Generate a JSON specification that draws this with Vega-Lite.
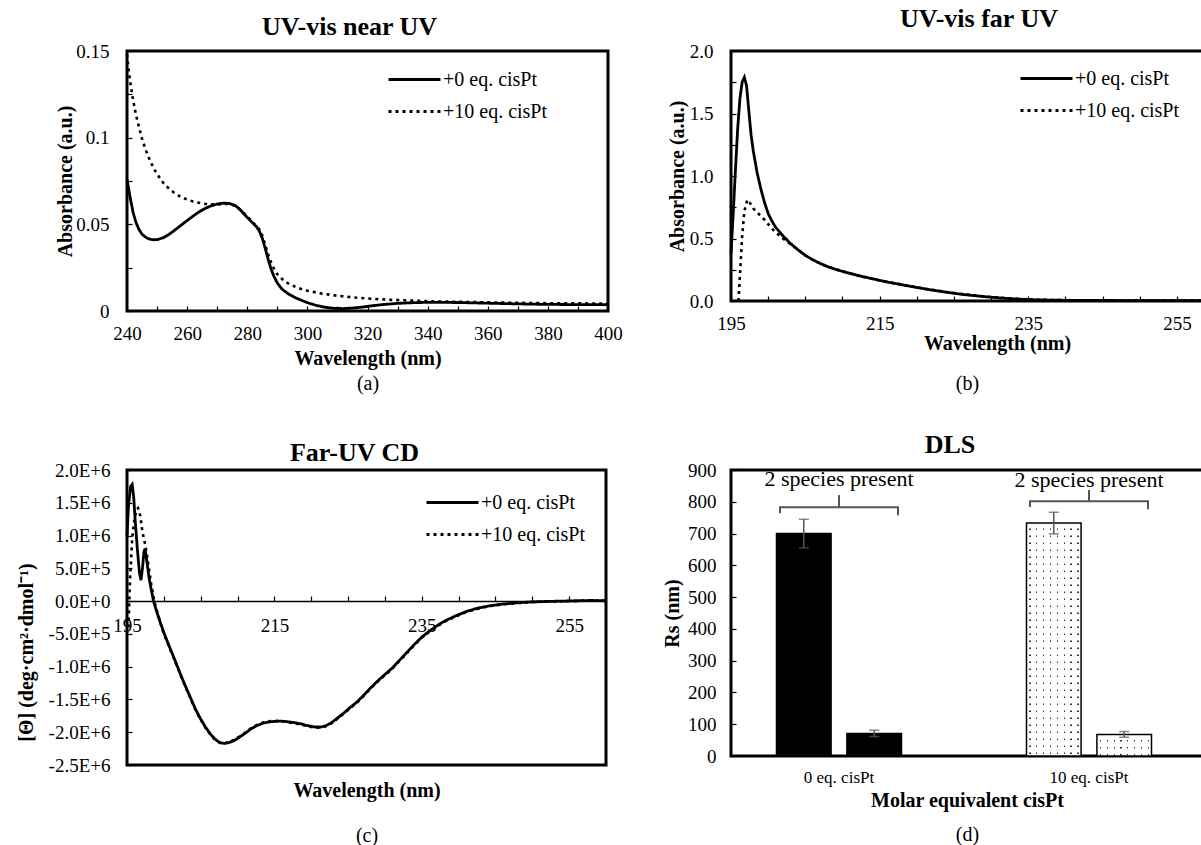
{
  "$schema": "https://vega.github.io/schema/vega-lite/v6.json",
  "background": "white",
  "padding": {"left": 14, "top": 4, "right": 0, "bottom": 0},
  "config": {
    "font": "Liberation Serif",
    "view": {"stroke": "black", "strokeWidth": 3},
    "axis": {
      "grid": false, "domain": false, "ticks": true, "tickColor": "black", "tickWidth": 1.2, "tickSize": -5,
      "labelColor": "black", "labelFontSize": 19, "labelFont": "Liberation Serif",
      "labelFlush": false, "labelOverlap": false, "labelBound": false, "labelSeparation": 0,
      "titleFont": "Liberation Serif", "titleFontSize": 20, "titleFontWeight": "bold", "titleColor": "black"
    },
    "title": {"font": "Liberation Serif", "fontSize": 26, "fontWeight": "bold", "color": "black", "anchor": "middle", "frame": "group", "baseline": "alphabetic"},
    "legend": {
      "title": null, "padding": 0, "symbolType": "M-2.6,0H2.6", "symbolSize": 400, "symbolStrokeWidth": 2.8,
      "symbolStrokeColor": "black", "symbolFillColor": "transparent", "labelFont": "Liberation Serif",
      "labelFontSize": 20, "labelColor": "black", "labelOffset": 17, "rowPadding": 10
    }
  },
  "datasets": {
    "nearuv": [
      {"nm": 240, "series": "+0 eq. cisPt", "abs": 0.076}, {"nm": 241, "series": "+0 eq. cisPt", "abs": 0.066},
      {"nm": 242, "series": "+0 eq. cisPt", "abs": 0.057}, {"nm": 243, "series": "+0 eq. cisPt", "abs": 0.051},
      {"nm": 244, "series": "+0 eq. cisPt", "abs": 0.047}, {"nm": 245, "series": "+0 eq. cisPt", "abs": 0.0443},
      {"nm": 246, "series": "+0 eq. cisPt", "abs": 0.0428}, {"nm": 247, "series": "+0 eq. cisPt", "abs": 0.0418},
      {"nm": 248, "series": "+0 eq. cisPt", "abs": 0.0413}, {"nm": 249, "series": "+0 eq. cisPt", "abs": 0.0411},
      {"nm": 250, "series": "+0 eq. cisPt", "abs": 0.0412}, {"nm": 252, "series": "+0 eq. cisPt", "abs": 0.0422},
      {"nm": 254, "series": "+0 eq. cisPt", "abs": 0.0442}, {"nm": 256, "series": "+0 eq. cisPt", "abs": 0.0468},
      {"nm": 258, "series": "+0 eq. cisPt", "abs": 0.0495}, {"nm": 260, "series": "+0 eq. cisPt", "abs": 0.0522},
      {"nm": 262, "series": "+0 eq. cisPt", "abs": 0.0548}, {"nm": 264, "series": "+0 eq. cisPt", "abs": 0.0572},
      {"nm": 266, "series": "+0 eq. cisPt", "abs": 0.0592}, {"nm": 268, "series": "+0 eq. cisPt", "abs": 0.0607},
      {"nm": 270, "series": "+0 eq. cisPt", "abs": 0.0617}, {"nm": 272, "series": "+0 eq. cisPt", "abs": 0.0622},
      {"nm": 274, "series": "+0 eq. cisPt", "abs": 0.0621}, {"nm": 276, "series": "+0 eq. cisPt", "abs": 0.0608},
      {"nm": 277, "series": "+0 eq. cisPt", "abs": 0.0595}, {"nm": 278, "series": "+0 eq. cisPt", "abs": 0.0578},
      {"nm": 279, "series": "+0 eq. cisPt", "abs": 0.0558}, {"nm": 280, "series": "+0 eq. cisPt", "abs": 0.054},
      {"nm": 281, "series": "+0 eq. cisPt", "abs": 0.0522}, {"nm": 282, "series": "+0 eq. cisPt", "abs": 0.0505},
      {"nm": 283, "series": "+0 eq. cisPt", "abs": 0.0488}, {"nm": 284, "series": "+0 eq. cisPt", "abs": 0.0462},
      {"nm": 285, "series": "+0 eq. cisPt", "abs": 0.042}, {"nm": 286, "series": "+0 eq. cisPt", "abs": 0.036},
      {"nm": 287, "series": "+0 eq. cisPt", "abs": 0.0295}, {"nm": 288, "series": "+0 eq. cisPt", "abs": 0.0238},
      {"nm": 289, "series": "+0 eq. cisPt", "abs": 0.0195}, {"nm": 290, "series": "+0 eq. cisPt", "abs": 0.0162},
      {"nm": 291, "series": "+0 eq. cisPt", "abs": 0.0138}, {"nm": 292, "series": "+0 eq. cisPt", "abs": 0.012},
      {"nm": 294, "series": "+0 eq. cisPt", "abs": 0.0095}, {"nm": 296, "series": "+0 eq. cisPt", "abs": 0.0077},
      {"nm": 298, "series": "+0 eq. cisPt", "abs": 0.0062}, {"nm": 300, "series": "+0 eq. cisPt", "abs": 0.0048},
      {"nm": 303, "series": "+0 eq. cisPt", "abs": 0.0032}, {"nm": 306, "series": "+0 eq. cisPt", "abs": 0.0021},
      {"nm": 309, "series": "+0 eq. cisPt", "abs": 0.0015}, {"nm": 312, "series": "+0 eq. cisPt", "abs": 0.0014},
      {"nm": 315, "series": "+0 eq. cisPt", "abs": 0.0017}, {"nm": 318, "series": "+0 eq. cisPt", "abs": 0.0022},
      {"nm": 321, "series": "+0 eq. cisPt", "abs": 0.0029}, {"nm": 325, "series": "+0 eq. cisPt", "abs": 0.0037},
      {"nm": 330, "series": "+0 eq. cisPt", "abs": 0.0044}, {"nm": 335, "series": "+0 eq. cisPt", "abs": 0.0048},
      {"nm": 340, "series": "+0 eq. cisPt", "abs": 0.005}, {"nm": 350, "series": "+0 eq. cisPt", "abs": 0.0049},
      {"nm": 360, "series": "+0 eq. cisPt", "abs": 0.0045}, {"nm": 370, "series": "+0 eq. cisPt", "abs": 0.0041},
      {"nm": 380, "series": "+0 eq. cisPt", "abs": 0.0038}, {"nm": 390, "series": "+0 eq. cisPt", "abs": 0.0037},
      {"nm": 400, "series": "+0 eq. cisPt", "abs": 0.0037},
      {"nm": 240, "series": "+10 eq. cisPt", "abs": 0.148}, {"nm": 240.5, "series": "+10 eq. cisPt", "abs": 0.14},
      {"nm": 241, "series": "+10 eq. cisPt", "abs": 0.133}, {"nm": 242, "series": "+10 eq. cisPt", "abs": 0.122},
      {"nm": 243, "series": "+10 eq. cisPt", "abs": 0.113}, {"nm": 244, "series": "+10 eq. cisPt", "abs": 0.106},
      {"nm": 245, "series": "+10 eq. cisPt", "abs": 0.0995}, {"nm": 246, "series": "+10 eq. cisPt", "abs": 0.094},
      {"nm": 247, "series": "+10 eq. cisPt", "abs": 0.0895}, {"nm": 248, "series": "+10 eq. cisPt", "abs": 0.0855},
      {"nm": 249, "series": "+10 eq. cisPt", "abs": 0.082}, {"nm": 250, "series": "+10 eq. cisPt", "abs": 0.079},
      {"nm": 252, "series": "+10 eq. cisPt", "abs": 0.074}, {"nm": 254, "series": "+10 eq. cisPt", "abs": 0.0705},
      {"nm": 256, "series": "+10 eq. cisPt", "abs": 0.0678}, {"nm": 258, "series": "+10 eq. cisPt", "abs": 0.0658},
      {"nm": 260, "series": "+10 eq. cisPt", "abs": 0.0643}, {"nm": 262, "series": "+10 eq. cisPt", "abs": 0.0632},
      {"nm": 264, "series": "+10 eq. cisPt", "abs": 0.0624}, {"nm": 266, "series": "+10 eq. cisPt", "abs": 0.0618},
      {"nm": 268, "series": "+10 eq. cisPt", "abs": 0.0615}, {"nm": 270, "series": "+10 eq. cisPt", "abs": 0.0615},
      {"nm": 272, "series": "+10 eq. cisPt", "abs": 0.0617}, {"nm": 274, "series": "+10 eq. cisPt", "abs": 0.0617},
      {"nm": 276, "series": "+10 eq. cisPt", "abs": 0.0607}, {"nm": 278, "series": "+10 eq. cisPt", "abs": 0.058},
      {"nm": 280, "series": "+10 eq. cisPt", "abs": 0.0545}, {"nm": 282, "series": "+10 eq. cisPt", "abs": 0.0508},
      {"nm": 284, "series": "+10 eq. cisPt", "abs": 0.0472}, {"nm": 285, "series": "+10 eq. cisPt", "abs": 0.0436},
      {"nm": 286, "series": "+10 eq. cisPt", "abs": 0.038}, {"nm": 287, "series": "+10 eq. cisPt", "abs": 0.0325},
      {"nm": 288, "series": "+10 eq. cisPt", "abs": 0.0278}, {"nm": 289, "series": "+10 eq. cisPt", "abs": 0.024},
      {"nm": 290, "series": "+10 eq. cisPt", "abs": 0.0212}, {"nm": 292, "series": "+10 eq. cisPt", "abs": 0.0178},
      {"nm": 294, "series": "+10 eq. cisPt", "abs": 0.0155}, {"nm": 296, "series": "+10 eq. cisPt", "abs": 0.014},
      {"nm": 298, "series": "+10 eq. cisPt", "abs": 0.0127}, {"nm": 300, "series": "+10 eq. cisPt", "abs": 0.0117},
      {"nm": 305, "series": "+10 eq. cisPt", "abs": 0.01}, {"nm": 310, "series": "+10 eq. cisPt", "abs": 0.0088},
      {"nm": 315, "series": "+10 eq. cisPt", "abs": 0.0079}, {"nm": 320, "series": "+10 eq. cisPt", "abs": 0.0072},
      {"nm": 325, "series": "+10 eq. cisPt", "abs": 0.0067}, {"nm": 330, "series": "+10 eq. cisPt", "abs": 0.0063},
      {"nm": 340, "series": "+10 eq. cisPt", "abs": 0.0057}, {"nm": 350, "series": "+10 eq. cisPt", "abs": 0.0053},
      {"nm": 360, "series": "+10 eq. cisPt", "abs": 0.005}, {"nm": 370, "series": "+10 eq. cisPt", "abs": 0.0047},
      {"nm": 380, "series": "+10 eq. cisPt", "abs": 0.0045}, {"nm": 390, "series": "+10 eq. cisPt", "abs": 0.0044},
      {"nm": 400, "series": "+10 eq. cisPt", "abs": 0.0043}
    ],
    "faruv": [
      {"nm": 195, "series": "+0 eq. cisPt", "abs": 0.38}, {"nm": 195.3, "series": "+0 eq. cisPt", "abs": 0.7},
      {"nm": 195.6, "series": "+0 eq. cisPt", "abs": 1.05}, {"nm": 195.9, "series": "+0 eq. cisPt", "abs": 1.38},
      {"nm": 196.2, "series": "+0 eq. cisPt", "abs": 1.62}, {"nm": 196.5, "series": "+0 eq. cisPt", "abs": 1.75},
      {"nm": 196.8, "series": "+0 eq. cisPt", "abs": 1.79}, {"nm": 197.1, "series": "+0 eq. cisPt", "abs": 1.72},
      {"nm": 197.4, "series": "+0 eq. cisPt", "abs": 1.52}, {"nm": 197.7, "series": "+0 eq. cisPt", "abs": 1.33},
      {"nm": 198, "series": "+0 eq. cisPt", "abs": 1.2}, {"nm": 198.5, "series": "+0 eq. cisPt", "abs": 1.03},
      {"nm": 199, "series": "+0 eq. cisPt", "abs": 0.9}, {"nm": 199.5, "series": "+0 eq. cisPt", "abs": 0.79},
      {"nm": 200, "series": "+0 eq. cisPt", "abs": 0.7}, {"nm": 200.5, "series": "+0 eq. cisPt", "abs": 0.64},
      {"nm": 201, "series": "+0 eq. cisPt", "abs": 0.59}, {"nm": 202, "series": "+0 eq. cisPt", "abs": 0.52},
      {"nm": 203, "series": "+0 eq. cisPt", "abs": 0.46}, {"nm": 204, "series": "+0 eq. cisPt", "abs": 0.41},
      {"nm": 205, "series": "+0 eq. cisPt", "abs": 0.365}, {"nm": 206, "series": "+0 eq. cisPt", "abs": 0.33},
      {"nm": 207, "series": "+0 eq. cisPt", "abs": 0.3}, {"nm": 208, "series": "+0 eq. cisPt", "abs": 0.275},
      {"nm": 209, "series": "+0 eq. cisPt", "abs": 0.255}, {"nm": 210, "series": "+0 eq. cisPt", "abs": 0.237},
      {"nm": 212, "series": "+0 eq. cisPt", "abs": 0.205}, {"nm": 214, "series": "+0 eq. cisPt", "abs": 0.178},
      {"nm": 216, "series": "+0 eq. cisPt", "abs": 0.152}, {"nm": 218, "series": "+0 eq. cisPt", "abs": 0.13},
      {"nm": 220, "series": "+0 eq. cisPt", "abs": 0.108}, {"nm": 222, "series": "+0 eq. cisPt", "abs": 0.088},
      {"nm": 224, "series": "+0 eq. cisPt", "abs": 0.07}, {"nm": 226, "series": "+0 eq. cisPt", "abs": 0.054},
      {"nm": 228, "series": "+0 eq. cisPt", "abs": 0.041}, {"nm": 230, "series": "+0 eq. cisPt", "abs": 0.03},
      {"nm": 232, "series": "+0 eq. cisPt", "abs": 0.021}, {"nm": 234, "series": "+0 eq. cisPt", "abs": 0.014},
      {"nm": 236, "series": "+0 eq. cisPt", "abs": 0.0095}, {"nm": 238, "series": "+0 eq. cisPt", "abs": 0.007},
      {"nm": 240, "series": "+0 eq. cisPt", "abs": 0.0055}, {"nm": 245, "series": "+0 eq. cisPt", "abs": 0.004},
      {"nm": 250, "series": "+0 eq. cisPt", "abs": 0.0035}, {"nm": 255, "series": "+0 eq. cisPt", "abs": 0.003},
      {"nm": 258.5, "series": "+0 eq. cisPt", "abs": 0.003},
      {"nm": 196, "series": "+10 eq. cisPt", "abs": 0}, {"nm": 196.2, "series": "+10 eq. cisPt", "abs": 0.2},
      {"nm": 196.5, "series": "+10 eq. cisPt", "abs": 0.52}, {"nm": 196.8, "series": "+10 eq. cisPt", "abs": 0.72},
      {"nm": 197.2, "series": "+10 eq. cisPt", "abs": 0.81}, {"nm": 197.6, "series": "+10 eq. cisPt", "abs": 0.78},
      {"nm": 198, "series": "+10 eq. cisPt", "abs": 0.74}, {"nm": 198.5, "series": "+10 eq. cisPt", "abs": 0.71},
      {"nm": 199, "series": "+10 eq. cisPt", "abs": 0.68}, {"nm": 199.5, "series": "+10 eq. cisPt", "abs": 0.65},
      {"nm": 200, "series": "+10 eq. cisPt", "abs": 0.615}, {"nm": 200.5, "series": "+10 eq. cisPt", "abs": 0.58},
      {"nm": 201, "series": "+10 eq. cisPt", "abs": 0.55}, {"nm": 202, "series": "+10 eq. cisPt", "abs": 0.5},
      {"nm": 203, "series": "+10 eq. cisPt", "abs": 0.455}, {"nm": 204, "series": "+10 eq. cisPt", "abs": 0.41},
      {"nm": 205, "series": "+10 eq. cisPt", "abs": 0.365}, {"nm": 206, "series": "+10 eq. cisPt", "abs": 0.33},
      {"nm": 207, "series": "+10 eq. cisPt", "abs": 0.3}, {"nm": 208, "series": "+10 eq. cisPt", "abs": 0.275},
      {"nm": 209, "series": "+10 eq. cisPt", "abs": 0.255}, {"nm": 210, "series": "+10 eq. cisPt", "abs": 0.237},
      {"nm": 212, "series": "+10 eq. cisPt", "abs": 0.205}, {"nm": 214, "series": "+10 eq. cisPt", "abs": 0.178},
      {"nm": 216, "series": "+10 eq. cisPt", "abs": 0.153}, {"nm": 218, "series": "+10 eq. cisPt", "abs": 0.131},
      {"nm": 220, "series": "+10 eq. cisPt", "abs": 0.11}, {"nm": 222, "series": "+10 eq. cisPt", "abs": 0.09},
      {"nm": 224, "series": "+10 eq. cisPt", "abs": 0.072}, {"nm": 226, "series": "+10 eq. cisPt", "abs": 0.056},
      {"nm": 228, "series": "+10 eq. cisPt", "abs": 0.043}, {"nm": 230, "series": "+10 eq. cisPt", "abs": 0.032},
      {"nm": 232, "series": "+10 eq. cisPt", "abs": 0.023}, {"nm": 234, "series": "+10 eq. cisPt", "abs": 0.016},
      {"nm": 236, "series": "+10 eq. cisPt", "abs": 0.011}, {"nm": 238, "series": "+10 eq. cisPt", "abs": 0.008},
      {"nm": 240, "series": "+10 eq. cisPt", "abs": 0.006}, {"nm": 245, "series": "+10 eq. cisPt", "abs": 0.0045},
      {"nm": 250, "series": "+10 eq. cisPt", "abs": 0.004}, {"nm": 255, "series": "+10 eq. cisPt", "abs": 0.0035},
      {"nm": 258.5, "series": "+10 eq. cisPt", "abs": 0.0035}
    ],
    "cd": [
      {"nm": 195, "series": "+0 eq. cisPt", "theta": 1.0e6}, {"nm": 195.2, "series": "+0 eq. cisPt", "theta": 1.45e6},
      {"nm": 195.5, "series": "+0 eq. cisPt", "theta": 1.75e6}, {"nm": 195.7, "series": "+0 eq. cisPt", "theta": 1.78e6},
      {"nm": 195.9, "series": "+0 eq. cisPt", "theta": 1.6e6}, {"nm": 196.1, "series": "+0 eq. cisPt", "theta": 1.25e6},
      {"nm": 196.4, "series": "+0 eq. cisPt", "theta": 0.8e6}, {"nm": 196.7, "series": "+0 eq. cisPt", "theta": 0.42e6},
      {"nm": 196.9, "series": "+0 eq. cisPt", "theta": 0.32e6}, {"nm": 197.1, "series": "+0 eq. cisPt", "theta": 0.5e6},
      {"nm": 197.3, "series": "+0 eq. cisPt", "theta": 0.75e6}, {"nm": 197.45, "series": "+0 eq. cisPt", "theta": 0.8e6},
      {"nm": 197.7, "series": "+0 eq. cisPt", "theta": 0.6e6}, {"nm": 198, "series": "+0 eq. cisPt", "theta": 0.35e6},
      {"nm": 198.3, "series": "+0 eq. cisPt", "theta": 0.17e6}, {"nm": 198.6, "series": "+0 eq. cisPt", "theta": 0},
      {"nm": 199, "series": "+0 eq. cisPt", "theta": -0.15e6}, {"nm": 199.5, "series": "+0 eq. cisPt", "theta": -0.32e6},
      {"nm": 200, "series": "+0 eq. cisPt", "theta": -0.48e6}, {"nm": 200.7, "series": "+0 eq. cisPt", "theta": -0.68e6},
      {"nm": 201.5, "series": "+0 eq. cisPt", "theta": -0.9e6}, {"nm": 202.2, "series": "+0 eq. cisPt", "theta": -1.1e6},
      {"nm": 202.9, "series": "+0 eq. cisPt", "theta": -1.29e6}, {"nm": 203.6, "series": "+0 eq. cisPt", "theta": -1.47e6},
      {"nm": 204.3, "series": "+0 eq. cisPt", "theta": -1.65e6}, {"nm": 205, "series": "+0 eq. cisPt", "theta": -1.8e6},
      {"nm": 205.7, "series": "+0 eq. cisPt", "theta": -1.93e6}, {"nm": 206.4, "series": "+0 eq. cisPt", "theta": -2.04e6},
      {"nm": 207, "series": "+0 eq. cisPt", "theta": -2.11e6}, {"nm": 207.6, "series": "+0 eq. cisPt", "theta": -2.16e6},
      {"nm": 208.2, "series": "+0 eq. cisPt", "theta": -2.17e6}, {"nm": 208.8, "series": "+0 eq. cisPt", "theta": -2.16e6},
      {"nm": 209.5, "series": "+0 eq. cisPt", "theta": -2.13e6}, {"nm": 210.2, "series": "+0 eq. cisPt", "theta": -2.08e6},
      {"nm": 211, "series": "+0 eq. cisPt", "theta": -2.02e6}, {"nm": 211.8, "series": "+0 eq. cisPt", "theta": -1.95e6},
      {"nm": 212.6, "series": "+0 eq. cisPt", "theta": -1.9e6}, {"nm": 213.5, "series": "+0 eq. cisPt", "theta": -1.86e6},
      {"nm": 214.5, "series": "+0 eq. cisPt", "theta": -1.84e6}, {"nm": 215.5, "series": "+0 eq. cisPt", "theta": -1.83e6},
      {"nm": 216.5, "series": "+0 eq. cisPt", "theta": -1.835e6}, {"nm": 217.5, "series": "+0 eq. cisPt", "theta": -1.85e6},
      {"nm": 218.5, "series": "+0 eq. cisPt", "theta": -1.87e6}, {"nm": 219.5, "series": "+0 eq. cisPt", "theta": -1.9e6},
      {"nm": 220.5, "series": "+0 eq. cisPt", "theta": -1.92e6}, {"nm": 221.3, "series": "+0 eq. cisPt", "theta": -1.92e6},
      {"nm": 222, "series": "+0 eq. cisPt", "theta": -1.9e6}, {"nm": 222.8, "series": "+0 eq. cisPt", "theta": -1.85e6},
      {"nm": 223.6, "series": "+0 eq. cisPt", "theta": -1.78e6}, {"nm": 224.5, "series": "+0 eq. cisPt", "theta": -1.7e6},
      {"nm": 225.3, "series": "+0 eq. cisPt", "theta": -1.62e6}, {"nm": 226.1, "series": "+0 eq. cisPt", "theta": -1.55e6},
      {"nm": 227, "series": "+0 eq. cisPt", "theta": -1.45e6}, {"nm": 228, "series": "+0 eq. cisPt", "theta": -1.33e6},
      {"nm": 229, "series": "+0 eq. cisPt", "theta": -1.22e6}, {"nm": 230, "series": "+0 eq. cisPt", "theta": -1.12e6},
      {"nm": 231, "series": "+0 eq. cisPt", "theta": -1.02e6}, {"nm": 232, "series": "+0 eq. cisPt", "theta": -0.9e6},
      {"nm": 233, "series": "+0 eq. cisPt", "theta": -0.78e6}, {"nm": 234, "series": "+0 eq. cisPt", "theta": -0.66e6},
      {"nm": 235, "series": "+0 eq. cisPt", "theta": -0.55e6}, {"nm": 236, "series": "+0 eq. cisPt", "theta": -0.46e6},
      {"nm": 237, "series": "+0 eq. cisPt", "theta": -0.38e6}, {"nm": 238, "series": "+0 eq. cisPt", "theta": -0.31e6},
      {"nm": 239.5, "series": "+0 eq. cisPt", "theta": -0.23e6}, {"nm": 241, "series": "+0 eq. cisPt", "theta": -0.16e6},
      {"nm": 242.5, "series": "+0 eq. cisPt", "theta": -0.11e6}, {"nm": 244, "series": "+0 eq. cisPt", "theta": -0.075e6},
      {"nm": 246, "series": "+0 eq. cisPt", "theta": -0.045e6}, {"nm": 248, "series": "+0 eq. cisPt", "theta": -0.025e6},
      {"nm": 250, "series": "+0 eq. cisPt", "theta": -0.012e6}, {"nm": 252, "series": "+0 eq. cisPt", "theta": -0.005e6},
      {"nm": 254, "series": "+0 eq. cisPt", "theta": 0}, {"nm": 256, "series": "+0 eq. cisPt", "theta": 0.005e6},
      {"nm": 258, "series": "+0 eq. cisPt", "theta": 0.01e6}, {"nm": 260, "series": "+0 eq. cisPt", "theta": 0.005e6},
      {"nm": 195.2, "series": "+10 eq. cisPt", "theta": -0.4e6}, {"nm": 195.4, "series": "+10 eq. cisPt", "theta": 0.3e6},
      {"nm": 195.7, "series": "+10 eq. cisPt", "theta": 0.95e6}, {"nm": 196, "series": "+10 eq. cisPt", "theta": 1.25e6},
      {"nm": 196.3, "series": "+10 eq. cisPt", "theta": 1.4e6}, {"nm": 196.5, "series": "+10 eq. cisPt", "theta": 1.42e6},
      {"nm": 196.8, "series": "+10 eq. cisPt", "theta": 1.3e6}, {"nm": 197.1, "series": "+10 eq. cisPt", "theta": 1.05e6},
      {"nm": 197.5, "series": "+10 eq. cisPt", "theta": 0.85e6}, {"nm": 197.9, "series": "+10 eq. cisPt", "theta": 0.55e6},
      {"nm": 198.3, "series": "+10 eq. cisPt", "theta": 0.25e6}, {"nm": 198.7, "series": "+10 eq. cisPt", "theta": 0},
      {"nm": 199.2, "series": "+10 eq. cisPt", "theta": -0.2e6}, {"nm": 199.6, "series": "+10 eq. cisPt", "theta": -0.36e6},
      {"nm": 200, "series": "+10 eq. cisPt", "theta": -0.5e6}, {"nm": 200.7, "series": "+10 eq. cisPt", "theta": -0.69e6},
      {"nm": 201.5, "series": "+10 eq. cisPt", "theta": -0.91e6}, {"nm": 202.2, "series": "+10 eq. cisPt", "theta": -1.11e6},
      {"nm": 202.9, "series": "+10 eq. cisPt", "theta": -1.3e6}, {"nm": 203.6, "series": "+10 eq. cisPt", "theta": -1.48e6},
      {"nm": 204.3, "series": "+10 eq. cisPt", "theta": -1.66e6}, {"nm": 205, "series": "+10 eq. cisPt", "theta": -1.81e6},
      {"nm": 205.7, "series": "+10 eq. cisPt", "theta": -1.94e6}, {"nm": 206.4, "series": "+10 eq. cisPt", "theta": -2.05e6},
      {"nm": 207, "series": "+10 eq. cisPt", "theta": -2.12e6}, {"nm": 207.6, "series": "+10 eq. cisPt", "theta": -2.16e6},
      {"nm": 208.2, "series": "+10 eq. cisPt", "theta": -2.17e6}, {"nm": 208.8, "series": "+10 eq. cisPt", "theta": -2.15e6},
      {"nm": 209.5, "series": "+10 eq. cisPt", "theta": -2.12e6}, {"nm": 210.2, "series": "+10 eq. cisPt", "theta": -2.07e6},
      {"nm": 211, "series": "+10 eq. cisPt", "theta": -2.01e6}, {"nm": 211.8, "series": "+10 eq. cisPt", "theta": -1.94e6},
      {"nm": 212.6, "series": "+10 eq. cisPt", "theta": -1.89e6}, {"nm": 213.5, "series": "+10 eq. cisPt", "theta": -1.85e6},
      {"nm": 214.5, "series": "+10 eq. cisPt", "theta": -1.83e6}, {"nm": 215.5, "series": "+10 eq. cisPt", "theta": -1.83e6},
      {"nm": 216.5, "series": "+10 eq. cisPt", "theta": -1.84e6}, {"nm": 217.5, "series": "+10 eq. cisPt", "theta": -1.86e6},
      {"nm": 218.5, "series": "+10 eq. cisPt", "theta": -1.88e6}, {"nm": 219.5, "series": "+10 eq. cisPt", "theta": -1.91e6},
      {"nm": 220.5, "series": "+10 eq. cisPt", "theta": -1.93e6}, {"nm": 221.3, "series": "+10 eq. cisPt", "theta": -1.93e6},
      {"nm": 222, "series": "+10 eq. cisPt", "theta": -1.91e6}, {"nm": 222.8, "series": "+10 eq. cisPt", "theta": -1.86e6},
      {"nm": 223.6, "series": "+10 eq. cisPt", "theta": -1.79e6}, {"nm": 224.5, "series": "+10 eq. cisPt", "theta": -1.71e6},
      {"nm": 225.3, "series": "+10 eq. cisPt", "theta": -1.63e6}, {"nm": 226.1, "series": "+10 eq. cisPt", "theta": -1.56e6},
      {"nm": 227, "series": "+10 eq. cisPt", "theta": -1.46e6}, {"nm": 228, "series": "+10 eq. cisPt", "theta": -1.34e6},
      {"nm": 229, "series": "+10 eq. cisPt", "theta": -1.23e6}, {"nm": 230, "series": "+10 eq. cisPt", "theta": -1.13e6},
      {"nm": 231, "series": "+10 eq. cisPt", "theta": -1.03e6}, {"nm": 232, "series": "+10 eq. cisPt", "theta": -0.91e6},
      {"nm": 233, "series": "+10 eq. cisPt", "theta": -0.79e6}, {"nm": 234, "series": "+10 eq. cisPt", "theta": -0.67e6},
      {"nm": 235, "series": "+10 eq. cisPt", "theta": -0.56e6}, {"nm": 236, "series": "+10 eq. cisPt", "theta": -0.47e6},
      {"nm": 237, "series": "+10 eq. cisPt", "theta": -0.39e6}, {"nm": 238, "series": "+10 eq. cisPt", "theta": -0.32e6},
      {"nm": 239.5, "series": "+10 eq. cisPt", "theta": -0.24e6}, {"nm": 241, "series": "+10 eq. cisPt", "theta": -0.17e6},
      {"nm": 242.5, "series": "+10 eq. cisPt", "theta": -0.12e6}, {"nm": 244, "series": "+10 eq. cisPt", "theta": -0.08e6},
      {"nm": 246, "series": "+10 eq. cisPt", "theta": -0.05e6}, {"nm": 248, "series": "+10 eq. cisPt", "theta": -0.03e6},
      {"nm": 250, "series": "+10 eq. cisPt", "theta": -0.015e6}, {"nm": 252, "series": "+10 eq. cisPt", "theta": -0.007e6},
      {"nm": 254, "series": "+10 eq. cisPt", "theta": -0.002e6}, {"nm": 256, "series": "+10 eq. cisPt", "theta": 0.004e6},
      {"nm": 258, "series": "+10 eq. cisPt", "theta": 0.012e6}, {"nm": 260, "series": "+10 eq. cisPt", "theta": 0.006e6}
    ],
    "dls": [
      {"group": "0 eq. cisPt", "species": "Species 1", "rs": 700, "lo": 655, "hi": 745},
      {"group": "0 eq. cisPt", "species": "Species 2", "rs": 71, "lo": 61, "hi": 81},
      {"group": "10 eq. cisPt", "species": "Species 1", "rs": 733, "lo": 699, "hi": 767},
      {"group": "10 eq. cisPt", "species": "Species 2", "rs": 68, "lo": 59, "hi": 77}
    ],
    "notes": [
      {"group": "0 eq. cisPt", "note": "2 species present", "brace": 783, "hook": 761, "stem": 821, "label": 872},
      {"group": "10 eq. cisPt", "note": "2 species present", "brace": 802, "hook": 780, "stem": 837, "label": 869}
    ]
  },
  "columns": 2,
  "align": "each",
  "spacing": {"row": 35, "column": 36},
  "resolve": {
    "scale": {"x": "independent", "y": "independent", "xOffset": "independent", "strokeDash": "independent"},
    "legend": {"strokeDash": "independent"}
  },
  "concat": [
    {
      "width": 481,
      "height": 260,
      "title": {"text": "UV-vis near UV", "dx": -18, "offset": 2},
      "data": {"name": "nearuv"},
      "resolve": {"axis": {"x": "independent"}},
      "encoding": {
        "y": {"field": "abs", "type": "quantitative",
          "scale": {"domain": [0, 0.15], "nice": false},
          "axis": {"title": "Absorbance (a.u.)", "labelOverlap": false,
            "values": [0, 0.025, 0.05, 0.075, 0.1, 0.125, 0.15],
            "labelExpr": "round(datum.value * 1000) % 50 == 0 ? format(datum.value, '.2~f') : ''",
            "labelPadding": 23, "titleX": -62, "titleBaseline": "middle"}},
        "strokeDash": {"field": "series", "type": "nominal",
          "scale": {"domain": ["+0 eq. cisPt", "+10 eq. cisPt"], "range": [[1, 0], [3, 4]]},
          "legend": {"orient": "none", "legendX": 276, "legendY": 17}}
      },
      "layer": [
        {
          "transform": [{"filter": "datum.series == '+0 eq. cisPt'"}],
          "mark": {"type": "line", "color": "black", "strokeWidth": 2.8},
          "encoding": {
            "x": {"field": "nm", "type": "quantitative",
              "scale": {"domain": [240, 400], "nice": false, "zero": false},
              "axis": {"title": "Wavelength (nm)", "orient": "bottom",
                "values": [240, 250, 260, 270, 280, 290, 300, 310, 320, 330, 340, 350, 360, 370, 380, 390, 400],
                "labelExpr": "datum.value % 20 == 0 ? datum.label : ''",
                "labelBaseline": "middle", "labelPadding": 27, "titleBaseline": "middle", "titleY": 47}}
          }
        },
        {
          "transform": [{"filter": "datum.series == '+10 eq. cisPt'"}],
          "mark": {"type": "line", "color": "black", "strokeWidth": 2.6},
          "encoding": {
            "x": {"field": "nm", "type": "quantitative",
              "axis": {"title": "(a)", "orient": "bottom", "labels": false, "ticks": false, "domain": false,
                "titleFontWeight": "normal", "titleFontSize": 20, "titleBaseline": "middle", "titleY": 72}}
          }
        }
      ]
    },
    {
      "width": 472,
      "height": 250,
      "title": {"text": "UV-vis far UV", "dx": 12, "offset": 10},
      "data": {"name": "faruv"},
      "resolve": {"axis": {"x": "independent"}},
      "encoding": {
        "y": {"field": "abs", "type": "quantitative",
          "scale": {"domain": [0, 2], "nice": false},
          "axis": {"title": "Absorbance (a.u.)", "labelOverlap": false,
            "values": [0, 0.25, 0.5, 0.75, 1, 1.25, 1.5, 1.75, 2],
            "labelExpr": "round(datum.value * 100) % 50 == 0 ? format(datum.value, '.1f') : ''",
            "labelPadding": 23, "titleX": -54, "titleBaseline": "middle"}},
        "strokeDash": {"field": "series", "type": "nominal",
          "scale": {"domain": ["+0 eq. cisPt", "+10 eq. cisPt"], "range": [[1, 0], [3, 4]]},
          "legend": {"orient": "none", "legendX": 304, "legendY": 16}}
      },
      "layer": [
        {
          "transform": [{"filter": "datum.series == '+0 eq. cisPt'"}],
          "mark": {"type": "line", "color": "black", "strokeWidth": 2.8},
          "encoding": {
            "x": {"field": "nm", "type": "quantitative",
              "scale": {"domain": [195, 258.5], "nice": false, "zero": false},
              "axis": {"title": "Wavelength (nm)", "orient": "bottom",
                "values": [195, 200, 205, 210, 215, 220, 225, 230, 235, 240, 245, 250, 255],
                "labelExpr": "(datum.value - 195) % 20 == 0 ? datum.label : ''",
                "labelBaseline": "middle", "labelPadding": 27, "titleBaseline": "middle", "titleY": 42, "titleX": 266}}
          }
        },
        {
          "transform": [{"filter": "datum.series == '+10 eq. cisPt'"}],
          "mark": {"type": "line", "color": "black", "strokeWidth": 2.6},
          "encoding": {
            "x": {"field": "nm", "type": "quantitative",
              "axis": {"title": "(b)", "orient": "bottom", "labels": false, "ticks": false, "domain": false,
                "titleFontWeight": "normal", "titleFontSize": 20, "titleBaseline": "middle", "titleY": 82}}
          }
        }
      ]
    },
    {
      "width": 479,
      "height": 295,
      "title": {"text": "Far-UV CD", "dx": -12, "dy": 7, "offset": 2},
      "data": {"name": "cd"},
      "resolve": {"axis": {"x": "independent"}},
      "encoding": {
        "y": {"field": "theta", "type": "quantitative",
          "scale": {"domain": [-2500000, 2000000], "nice": false, "zero": false},
          "axis": {"title": "[Θ] (deg·cm²·dmol⁻¹)", "labelOverlap": false,
            "values": [-2500000, -2000000, -1500000, -1000000, -500000, 0, 500000, 1000000, 1500000, 2000000],
            "labelExpr": "replace(replace(format(datum.value, '.1e'), 'e', 'E'), '−', '-')",
            "labelPadding": 22, "titleX": -101, "titleY": 182, "titleBaseline": "middle"}},
        "strokeDash": {"field": "series", "type": "nominal",
          "scale": {"domain": ["+0 eq. cisPt", "+10 eq. cisPt"], "range": [[1, 0], [3, 4]]},
          "legend": {"orient": "none", "legendX": 314, "legendY": 21}}
      },
      "layer": [
        {
          "transform": [{"filter": "datum.series == '+0 eq. cisPt'"}],
          "mark": {"type": "line", "color": "black", "strokeWidth": 2.8},
          "encoding": {
            "x": {"field": "nm", "type": "quantitative",
              "scale": {"domain": [195, 260], "nice": false, "zero": false},
              "axis": {"title": "Wavelength (nm)", "orient": "bottom", "offset": -164,
                "domain": true, "domainColor": "black", "domainWidth": 1.5,
                "values": [195, 200, 205, 210, 215, 220, 225, 230, 235, 240, 245, 250, 255],
                "labelExpr": "(datum.value - 195) % 20 == 0 ? datum.label : ''",
                "labelBaseline": "middle", "labelPadding": 29, "titleBaseline": "middle", "titleY": 189}}
          }
        },
        {
          "transform": [{"filter": "datum.series == '+10 eq. cisPt'"}],
          "mark": {"type": "line", "color": "black", "strokeWidth": 2.6},
          "encoding": {
            "x": {"field": "nm", "type": "quantitative",
              "axis": {"title": "(c)", "orient": "bottom", "labels": false, "ticks": false, "domain": false,
                "titleFontWeight": "normal", "titleFontSize": 20, "titleBaseline": "middle", "titleY": 70}}
          }
        }
      ]
    },
    {
      "width": 472,
      "height": 286,
      "title": {"text": "DLS", "dx": -17, "offset": 3},
      "resolve": {"axis": {"x": "independent"}},
      "layer": [
        {
          "data": {"name": "dls"},
          "transform": [{"filter": "datum.group == '0 eq. cisPt'"}],
          "mark": {"type": "bar", "fill": "black", "stroke": "black", "strokeWidth": 1.5},
          "encoding": {
            "x": {"field": "group", "type": "nominal",
              "scale": {"domain": ["0 eq. cisPt", "10 eq. cisPt"], "paddingInner": 0.5, "paddingOuter": 0.194, "align": 0.469},
              "axis": {"title": "Molar equivalent cisPt", "orient": "bottom", "ticks": false, "labelAngle": 0,
                "labelFontSize": 17, "labelBaseline": "middle", "labelPadding": 21, "titleBaseline": "middle", "titleY": 44}},
            "xOffset": {"field": "species", "type": "nominal", "scale": {"paddingInner": 0.225, "paddingOuter": 0}},
            "y": {"field": "rs", "type": "quantitative",
              "scale": {"domain": [0, 900], "nice": false},
              "axis": {"title": "Rs (nm)", "labelOverlap": false, "values": [0, 100, 200, 300, 400, 500, 600, 700, 800, 900],
                "labelPadding": 20, "titleX": -59, "titleBaseline": "middle"}}
          }
        },
        {
          "data": {"name": "dls"},
          "transform": [{"filter": "datum.group == '10 eq. cisPt'"}],
          "mark": {"type": "bar", "stroke": null,
            "fill": {"gradient": "linear", "x1": 0, "y1": 0, "x2": 1, "y2": 0, "stops": [
              {"offset": 0, "color": "white"},
              {"offset": 0.053, "color": "white"}, {"offset": 0.053, "color": "#333333"}, {"offset": 0.075, "color": "#333333"}, {"offset": 0.075, "color": "white"},
              {"offset": 0.178, "color": "white"}, {"offset": 0.178, "color": "#333333"}, {"offset": 0.2, "color": "#333333"}, {"offset": 0.2, "color": "white"},
              {"offset": 0.304, "color": "white"}, {"offset": 0.304, "color": "#333333"}, {"offset": 0.326, "color": "#333333"}, {"offset": 0.326, "color": "white"},
              {"offset": 0.429, "color": "white"}, {"offset": 0.429, "color": "#333333"}, {"offset": 0.451, "color": "#333333"}, {"offset": 0.451, "color": "white"},
              {"offset": 0.555, "color": "white"}, {"offset": 0.555, "color": "#333333"}, {"offset": 0.577, "color": "#333333"}, {"offset": 0.577, "color": "white"},
              {"offset": 0.68, "color": "white"}, {"offset": 0.68, "color": "#333333"}, {"offset": 0.702, "color": "#333333"}, {"offset": 0.702, "color": "white"},
              {"offset": 0.805, "color": "white"}, {"offset": 0.805, "color": "#333333"}, {"offset": 0.827, "color": "#333333"}, {"offset": 0.827, "color": "white"},
              {"offset": 0.931, "color": "white"}, {"offset": 0.931, "color": "#333333"}, {"offset": 0.953, "color": "#333333"}, {"offset": 0.953, "color": "white"},
              {"offset": 1, "color": "white"}
            ]}},
          "encoding": {
            "x": {"field": "group", "type": "nominal",
              "axis": {"title": "(d)", "orient": "bottom", "labels": false, "ticks": false, "domain": false,
                "titleFontWeight": "normal", "titleFontSize": 20, "titleBaseline": "middle", "titleY": 78}},
            "xOffset": {"field": "species", "type": "nominal"},
            "y": {"field": "rs", "type": "quantitative",
              "axis": {"title": "Rs (nm)", "labelOverlap": false, "values": [0, 100, 200, 300, 400, 500, 600, 700, 800, 900],
                "labelPadding": 20, "titleX": -59, "titleBaseline": "middle"}}
          }
        },
        {
          "data": {"name": "dls"},
          "transform": [{"filter": "datum.group == '10 eq. cisPt'"}],
          "mark": {"type": "rule", "color": "white", "strokeWidth": 52, "strokeDash": [5.5, 1.5], "strokeCap": "butt"},
          "encoding": {
            "x": {"field": "group", "type": "nominal", "axis": null},
            "xOffset": {"field": "species", "type": "nominal"},
            "y": {"field": "rs", "type": "quantitative",
              "axis": {"title": "Rs (nm)", "labelOverlap": false, "values": [0, 100, 200, 300, 400, 500, 600, 700, 800, 900],
                "labelPadding": 20, "titleX": -59, "titleBaseline": "middle"}},
            "y2": {"datum": 0}
          }
        },
        {
          "data": {"name": "dls"},
          "transform": [{"filter": "datum.group == '10 eq. cisPt'"}],
          "mark": {"type": "bar", "fill": "transparent", "stroke": "black", "strokeWidth": 1.5},
          "encoding": {
            "x": {"field": "group", "type": "nominal", "axis": null},
            "xOffset": {"field": "species", "type": "nominal"},
            "y": {"field": "rs", "type": "quantitative",
              "axis": {"title": "Rs (nm)", "labelOverlap": false, "values": [0, 100, 200, 300, 400, 500, 600, 700, 800, 900],
                "labelPadding": 20, "titleX": -59, "titleBaseline": "middle"}}
          }
        },
        {
          "data": {"name": "dls"},
          "mark": {"type": "rule", "color": "#555555", "strokeWidth": 1.5},
          "encoding": {
            "x": {"field": "group", "type": "nominal", "axis": null},
            "xOffset": {"field": "species", "type": "nominal"},
            "y": {"field": "lo", "type": "quantitative",
              "axis": {"title": "Rs (nm)", "labelOverlap": false, "values": [0, 100, 200, 300, 400, 500, 600, 700, 800, 900],
                "labelPadding": 20, "titleX": -59, "titleBaseline": "middle"}},
            "y2": {"field": "hi"}
          }
        },
        {
          "data": {"name": "dls"},
          "mark": {"type": "tick", "orient": "horizontal", "color": "#555555", "size": 10, "thickness": 1.5},
          "encoding": {
            "x": {"field": "group", "type": "nominal", "axis": null},
            "xOffset": {"field": "species", "type": "nominal"},
            "y": {"field": "lo", "type": "quantitative",
              "axis": {"title": "Rs (nm)", "labelOverlap": false, "values": [0, 100, 200, 300, 400, 500, 600, 700, 800, 900],
                "labelPadding": 20, "titleX": -59, "titleBaseline": "middle"}}
          }
        },
        {
          "data": {"name": "dls"},
          "mark": {"type": "tick", "orient": "horizontal", "color": "#555555", "size": 10, "thickness": 1.5},
          "encoding": {
            "x": {"field": "group", "type": "nominal", "axis": null},
            "xOffset": {"field": "species", "type": "nominal"},
            "y": {"field": "hi", "type": "quantitative",
              "axis": {"title": "Rs (nm)", "labelOverlap": false, "values": [0, 100, 200, 300, 400, 500, 600, 700, 800, 900],
                "labelPadding": 20, "titleX": -59, "titleBaseline": "middle"}}
          }
        },
        {
          "data": {"name": "notes"},
          "mark": {"type": "bar", "fill": "transparent", "stroke": "#555555", "strokeWidth": 2,
            "strokeDash": [126, 118, 10], "width": {"band": 0.944}},
          "encoding": {
            "x": {"field": "group", "type": "nominal", "axis": null},
            "y": {"field": "brace", "type": "quantitative",
              "axis": {"title": "Rs (nm)", "labelOverlap": false, "values": [0, 100, 200, 300, 400, 500, 600, 700, 800, 900],
                "labelPadding": 20, "titleX": -59, "titleBaseline": "middle"}},
            "y2": {"field": "hook"}
          }
        },
        {
          "data": {"name": "notes"},
          "mark": {"type": "rule", "color": "#555555", "strokeWidth": 2},
          "encoding": {
            "x": {"field": "group", "type": "nominal", "axis": null},
            "y": {"field": "brace", "type": "quantitative",
              "axis": {"title": "Rs (nm)", "labelOverlap": false, "values": [0, 100, 200, 300, 400, 500, 600, 700, 800, 900],
                "labelPadding": 20, "titleX": -59, "titleBaseline": "middle"}},
            "y2": {"field": "stem"}
          }
        },
        {
          "data": {"name": "notes"},
          "mark": {"type": "text", "font": "Liberation Serif", "fontSize": 22, "color": "black", "baseline": "middle"},
          "encoding": {
            "x": {"field": "group", "type": "nominal", "axis": null},
            "y": {"field": "label", "type": "quantitative",
              "axis": {"title": "Rs (nm)", "labelOverlap": false, "values": [0, 100, 200, 300, 400, 500, 600, 700, 800, 900],
                "labelPadding": 20, "titleX": -59, "titleBaseline": "middle"}},
            "text": {"field": "note"}
          }
        }
      ]
    }
  ]
}
